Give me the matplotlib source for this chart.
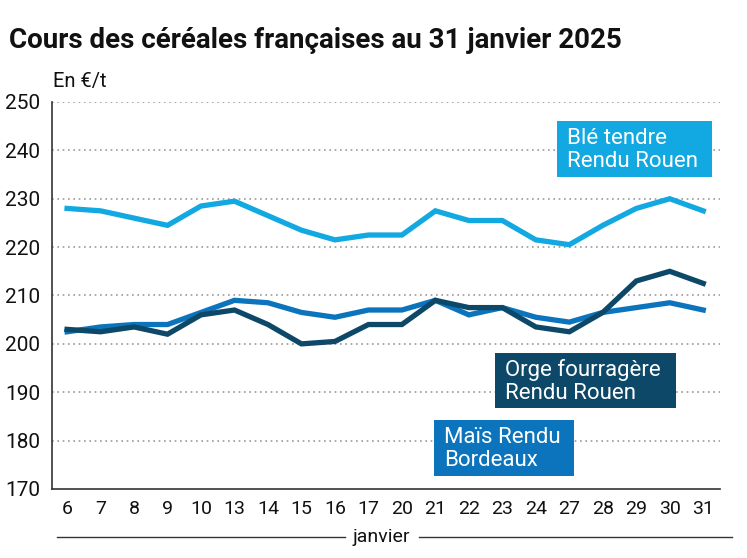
import matplotlib
matplotlib.use("Agg")
import matplotlib.pyplot as plt
from matplotlib.lines import Line2D
from matplotlib.patches import Rectangle

plt.rcParams['font.family'] = ['Roboto', 'DejaVu Sans']

days = ["6", "7", "8", "9", "10", "13", "14", "15", "16", "17",
        "20", "21", "22", "23", "24", "27", "28", "29", "30", "31"]
ble = [228, 227.5, 226, 224.5, 228.5, 229.5, 226.5, 223.5, 221.5, 222.5,
       222.5, 227.5, 225.5, 225.5, 221.5, 220.5, 224.5, 228, 230, 227.5]
mais = [202.5, 203.5, 204, 204, 206.5, 209, 208.5, 206.5, 205.5, 207,
        207, 209, 206, 207.5, 205.5, 204.5, 206.5, 207.5, 208.5, 207]
orge = [203, 202.5, 203.5, 202, 206, 207, 204, 200, 200.5, 204,
        204, 209, 207.5, 207.5, 203.5, 202.5, 206.5, 213, 215, 212.5]
yticks = [170, 180, 190, 200, 210, 220, 230, 240, 250]

c_ble = "#12A8E1"
c_mais = "#0B74BC"
c_orge = "#0D4868"

W, H = 747, 558
fig = plt.figure(figsize=(W / 100, H / 100), dpi=100)
ax = fig.add_axes([52 / W, 1 - 489 / H, (720 - 52) / W, (489 - 102) / H])

x = list(range(len(days)))
ax.plot(x, ble, color=c_ble, lw=3.8, solid_joinstyle='miter', zorder=3)
ax.plot(x, mais, color=c_mais, lw=3.8, solid_joinstyle='miter', zorder=3)
ax.plot(x, orge, color=c_orge, lw=3.8, solid_joinstyle='miter', zorder=4)

ax.set_xlim(-0.45, 19.5)
ax.set_ylim(170, 250)
ax.set_yticks(yticks)
ax.set_yticklabels([str(v) for v in yticks], fontsize=15, color="#111111")
ax.set_xticks(x)
ax.set_xticklabels(days, fontsize=14, color="#111111")
ax.tick_params(axis='both', length=0)
ax.tick_params(axis='y', pad=8.5)
ax.tick_params(axis='x', pad=8)

for v in yticks[1:]:
    ax.axhline(v, color="#999999", lw=1.2, ls=(0, (1, 2.2)), zorder=1)

for s in ['top', 'right']:
    ax.spines[s].set_visible(False)
ax.spines['left'].set_color("#333333")
ax.spines['bottom'].set_color("#333333")
ax.spines['left'].set_linewidth(1.2)
ax.spines['bottom'].set_linewidth(1.2)

# Labels in boxes (pixel boxes: x0, y0, x1, y1)
def label(x0, y0, x1, y1, txt, color):
    fig.add_artist(Rectangle((x0 / W, 1 - y1 / H), (x1 - x0) / W, (y1 - y0) / H,
                             transform=fig.transFigure, fc=color, ec='none', zorder=5))
    fig.text((x0 + 10) / W, 1 - ((y0 + y1) / 2 + 1) / H, txt, color="white", fontsize=16,
             ha='left', va='center', linespacing=1.12, zorder=6)

label(557, 121, 712, 177, "Blé tendre\nRendu Rouen", c_ble)
label(495, 353, 676, 408, "Orge fourragère\nRendu Rouen", c_orge)
label(434, 420, 574, 476, "Maïs Rendu\nBordeaux", c_mais)

fig.text(9 / W, 1 - 41 / H, "Cours des céréales françaises au 31 janvier 2025",
         fontsize=20, fontweight='bold', ha='left', va='center', color="#111111")
fig.text(53 / W, 1 - 82 / H, "En €/t", fontsize=14.5, ha='left', va='center', color="#111111")

# janvier bracket
fig.text(381 / W, 1 - 537 / H, "janvier", fontsize=14, ha='center', va='center', color="#111111")
fig.add_artist(Line2D([57 / W, 345 / W], [1 - 537 / H, 1 - 537 / H], color="#333333", lw=1))
fig.add_artist(Line2D([419 / W, 732 / W], [1 - 537 / H, 1 - 537 / H], color="#333333", lw=1))

fig.savefig("out.png", dpi=100)
